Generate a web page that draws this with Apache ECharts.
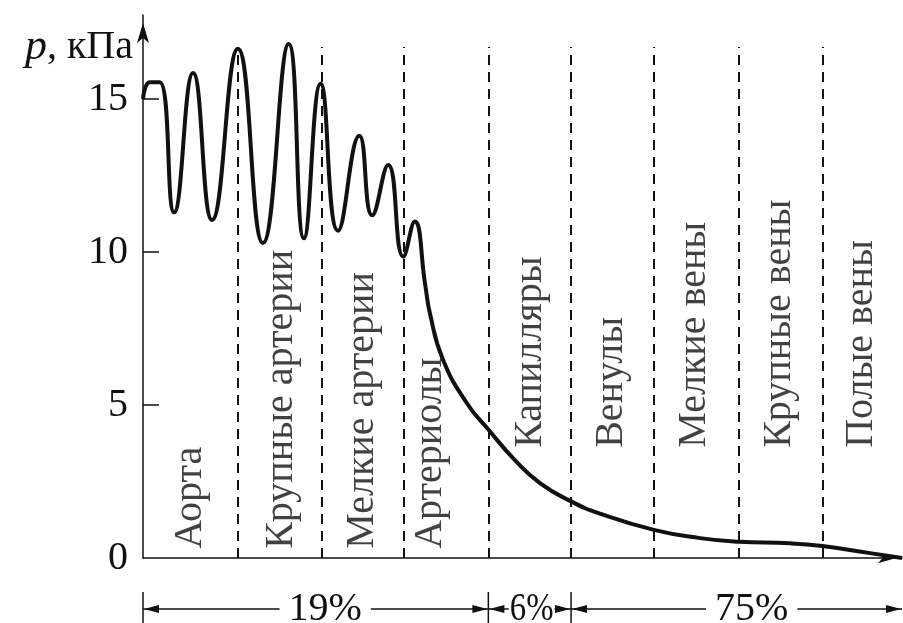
<!DOCTYPE html>
<html>
<head>
<meta charset="utf-8">
<script src="https://cdn.jsdelivr.net/npm/echarts@6/dist/echarts.min.js"></script>
<style>
html, body { margin: 0; padding: 0; background: #fff; }
#chart { width: 903px; height: 623px; }
</style>
</head>
<body>
<div id="chart"></div>
<script>
//曲线：沿血管的相对位置 / 压力 кПа
const xVals = [0, 0.9, 2.2, 4.1, 6.6, 9.1, 12.5, 15.8, 19.2, 21.2, 23.4, 25.7, 28.5, 30.2, 32.3, 34.3, 35.8,
    37.2, 37.8, 39.5, 42.7, 45.5, 49.0, 52.3, 56.4, 60.2, 67.3, 73.4, 78.5, 85.2, 89.5, 95.8, 100];
const pressure = [15.0, 15.55, 15.55, 11.3, 15.85, 11.05, 16.65, 10.3, 16.8, 10.45, 15.5, 10.7, 13.8, 11.2, 12.85, 9.85, 11.0,
    8.9, 8.0, 6.5, 5.05, 4.2, 3.2, 2.45, 1.85, 1.45, 0.92, 0.65, 0.53, 0.48, 0.39, 0.16, 0];

//分段边界（虚线）
const edges = [12.5, 23.5, 34.4, 45.5, 56.4, 67.3, 78.5, 89.5];
const sectionNames = ['Аорта', 'Крупные артерии', 'Мелкие артерии', 'Артериолы', 'Капилляры',
    'Венулы', 'Мелкие вены', 'Крупные вены', 'Полые вены'];
const labelX = [6.3, 18.2, 28.9, 37.9, 51.1, 61.7, 72.6, 83.8, 94.7];
const labelY = [0.3, 0.3, 0.3, 0.3, 3.6, 3.6, 3.6, 3.6, 3.6];

//纵轴刻度
const yLabels = [0, 5, 10, 15];
const yTicks = [5, 10, 15];

//底部百分比
const shares = ['19%', '6%', '75%'];
const shareFrom = [0, 45.5, 56.4];
const shareTo = [45.5, 56.4, 100];
const shareTextX = [24.0, 51.2, 80.2];

const font = '"Liberation Serif", "Times New Roman", serif';
const ink = '#111';
const fs = 40;

let chart = echarts.init(document.getElementById('chart'));

let option = {
    backgroundColor: '#fff',
    animation: false,
    grid: { left: 143, right: 1, top: 15, bottom: 65 },
    xAxis: {
        type: 'value',
        min: 0,
        max: 100,
        axisLine: { show: true, lineStyle: { color: ink, width: 1.5 }, symbol: ['none', 'arrow'], symbolSize: [8, 18], symbolOffset: [0, -6] },
        axisTick: { show: false },
        axisLabel: { show: false },
        splitLine: { show: false }
    },
    yAxis: {
        type: 'value',
        min: 0,
        max: 17.75,
        interval: 5,
        name: '{i|p}{t|, кПа}',
        nameLocation: 'end',
        nameGap: -32,
        nameTextStyle: {
            align: 'right', verticalAlign: 'middle', padding: [0, 10, 0, 0],
            color: ink, fontSize: fs, fontFamily: font,
            rich: {
                i: { fontStyle: 'italic', fontSize: 44, fontFamily: font, color: ink },
                t: { fontSize: fs, fontFamily: font, color: ink }
            }
        },
        axisLine: { show: true, lineStyle: { color: ink, width: 1.5 }, symbol: ['none', 'arrow'], symbolSize: [9, 20], symbolOffset: [0, -8] },
        axisTick: { show: true, inside: true, length: 16, customValues: yTicks, lineStyle: { color: ink, width: 1.5 } },
        axisLabel: {
            customValues: yLabels, color: ink, fontSize: fs, fontFamily: font, margin: 15,
            formatter: function (v) { return v % 5 === 0 ? String(v) : ''; }
        },
        splitLine: { show: false }
    },
    series: [
        {
            type: 'line',
            data: xVals.map(function (x, i) { return [x, pressure[i]]; }),
            smooth: 0.5,
            symbol: 'none',
            lineStyle: { color: ink, width: 4 },
            z: 3,
            markLine: {
                silent: true,
                symbol: ['none', 'none'],
                label: { show: false },
                lineStyle: { color: ink, width: 2, type: [10, 7] },
                data: edges.map(function (x) { return [{ coord: [x, 0] }, { coord: [x, 16.7] }]; })
            }
        },
        {
            type: 'scatter',
            symbolSize: 0,
            data: labelX.map(function (x, i) { return [x, labelY[i]]; }),
            z: 4,
            label: {
                show: true,
                position: 'inside',
                rotate: 90,
                align: 'left',
                verticalAlign: 'middle',
                color: ink,
                fontSize: fs,
                fontFamily: font,
                formatter: function (p) { return sectionNames[p.dataIndex]; }
            }
        }
    ]
};
chart.setOption(option);

//底部箭头和百分比
function drawShares() {
    const ctx = document.createElement('canvas').getContext('2d');
    ctx.font = fs + 'px ' + font;
    const ay = chart.convertToPixel({ gridIndex: 0 }, [0, 0])[1] + 51;
    const els = [];
    const lineStyle = { stroke: ink, lineWidth: 1.5 };
    function arrow(tipX, dir) {
        els.push({ type: 'polygon', shape: { points: [[tipX, ay], [tipX + dir * 15, ay - 4], [tipX + dir * 15, ay + 4]] }, style: { fill: ink } });
    }
    for (let i = 0; i < shares.length; i++) {
        const x1 = chart.convertToPixel({ gridIndex: 0 }, [shareFrom[i], 0])[0];
        const x2 = chart.convertToPixel({ gridIndex: 0 }, [shareTo[i], 0])[0];
        const tc = chart.convertToPixel({ gridIndex: 0 }, [shareTextX[i], 0])[0];
        const sx = i === 1 ? 0.82 : 1;
        const half = ctx.measureText(shares[i]).width * sx / 2;
        const gap = i === 1 ? 1 : 9;
        els.push({ type: 'line', shape: { x1: x1, y1: ay - 17, x2: x1, y2: ay + 20 }, style: lineStyle });
        els.push({ type: 'line', shape: { x1: x1, y1: ay, x2: Math.max(x1, tc - half - gap), y2: ay }, style: lineStyle });
        els.push({ type: 'line', shape: { x1: Math.min(x2, tc + half + gap), y1: ay, x2: x2, y2: ay }, style: lineStyle });
        arrow(x1 + 1, 1);
        arrow(x2 - 1, -1);
        els.push({
            type: 'text', x: tc, y: ay, scaleX: sx, scaleY: 1,
            style: { text: shares[i], x: 0, y: 0, align: 'center', verticalAlign: 'middle', font: fs + 'px ' + font, fill: ink }
        });
    }
    chart.setOption({ graphic: els });
}
drawShares();
</script>
</body>
</html>
